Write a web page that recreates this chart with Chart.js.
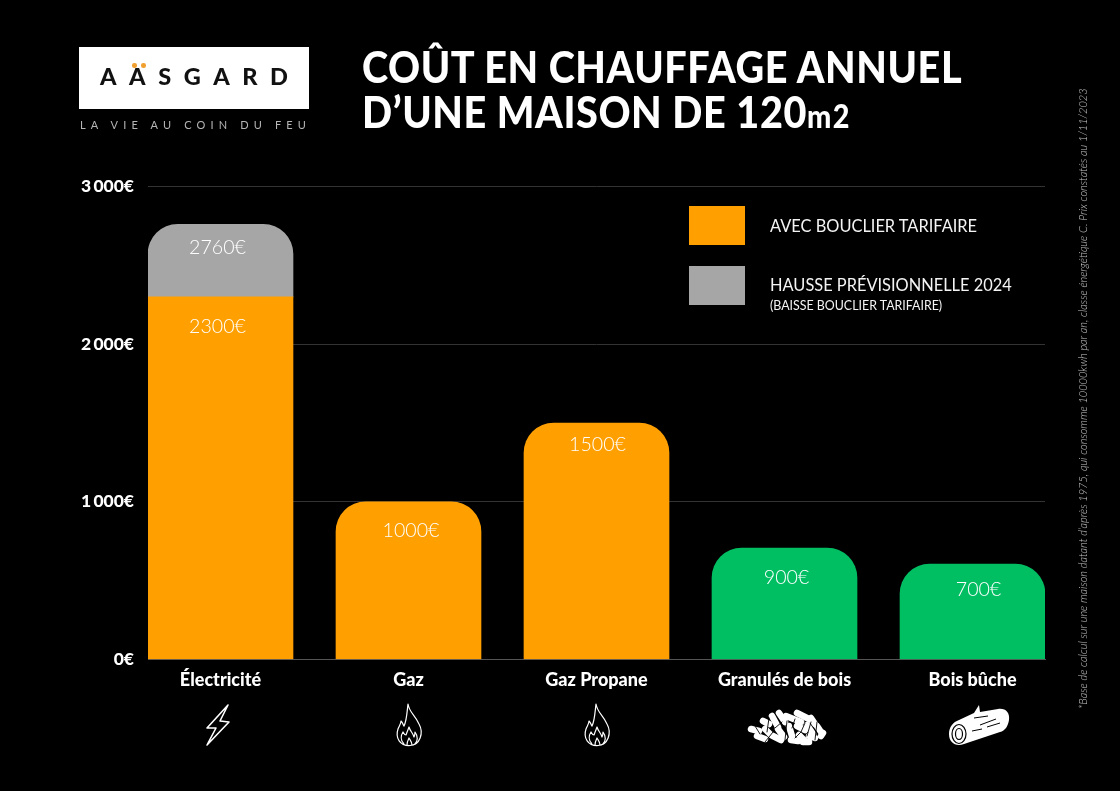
<!DOCTYPE html>
<html lang="fr">
  <head>
    <meta charset="utf-8">
    <title>Coût en chauffage annuel</title>
    <script src="https://cdn.jsdelivr.net/npm/chart.js@4.2.1/dist/chart.umd.min.js"></script>
    <style>
      html, body { margin: 0; background: #000; width: 1120px; height: 791px; overflow: hidden; }
      canvas { position: absolute; left: 0; top: 0; }
      .t { position: absolute; white-space: nowrap; color: #fff; font-family: Lato, sans-serif; }
      .title { font-weight: 900; font-size: 44px; line-height: 46px; left: 362px; letter-spacing: 0.65px; transform-origin: 0 0; transform: scaleX(0.9); }
      .title small { font-size: 32px; letter-spacing: 1.5px; }
      .logo { position: absolute; left: 79px; top: 47px; width: 230px; height: 62px; background: #fff; }
      .logo span { position: absolute; left: 21px; top: 15px; color: #111; font: 900 23.5px Lato, sans-serif; letter-spacing: 12.6px; }
      .dot { position: absolute; top: 16px; width: 4.5px; height: 4.5px; border-radius: 50%; background: #f0a030; }
      .tag { left: 80px; top: 118px; color: #b5b5b5; font-size: 11px; letter-spacing: 5.15px; font-weight: 400; }
      .box { position: absolute; left: 689px; width: 56px; height: 39px; }
      .leg { left: 770px; font-size: 16.4px; font-weight: 400; color: #f4f4f4; }
      .note { left: 1084px; top: 709px; color: #c4c4c4; font-size: 11px; font-style: italic; font-weight: 300;
              transform-origin: 0 0; transform: rotate(-90deg) translateY(-8px); }
      svg { position: absolute; }
    </style>
  </head>
  <body>
    <canvas id="chart" width="1120" height="791"></canvas>

    <div class="logo">
      <span>AASGARD</span>
      <div class="dot" style="left:53px"></div>
      <div class="dot" style="left:62px"></div>
    </div>
    <div class="t tag">LA VIE AU COIN DU FEU</div>
    <div class="t title" style="top:43px">COÛT EN CHAUFFAGE ANNUEL</div>
    <div class="t title" style="top:88px">D’UNE MAISON DE 120<small>m2</small></div>

    <div class="box" style="top:206px;background:#ff9f00"></div>
    <div class="box" style="top:266px;background:#a6a6a6"></div>
    <div class="t leg" style="top:216px">AVEC BOUCLIER TARIFAIRE</div>
    <div class="t leg" style="top:275px">HAUSSE PRÉVISIONNELLE 2024</div>
    <div class="t leg" style="top:298px;font-size:12.4px">(BAISSE BOUCLIER TARIFAIRE)</div>

    <div class="t note">*Base de calcul sur une maison datant d’après 1975,  qui consomme 10000kwh par an, classe énergétique C. Prix constatés au 1/11/2023</div>

    <!-- icons under the categories -->
    <svg style="left:201px;top:700px" width="34" height="50" viewBox="0 0 34 50" fill="none" stroke="#fff" stroke-width="1.6" stroke-linejoin="round">
      <path d="M27 5 L6 28 L15 28 L6 45 L28 22 L19 21 Z"/>
    </svg>
    <svg style="left:394px;top:702px" width="32" height="46" viewBox="0 0 32 46" fill="none" stroke="#fff" stroke-width="1.2" stroke-linejoin="round">
      <path d="M14 2 C15 10 21 13 25 22 C30 31 26 43 16 43.5 C6 44 1 36 4 27 C5 24 7 22 7 19 C9 21 9 23 10 24 C13 18 13 9 14 2 Z"/>
      <path d="M10 42 C6 38 7 33 9 30 C10 32 11 33 12 33 C13 30 14 28 15 25 C16 29 19 31 20 35 C21 33 21 32 21 30 C24 34 24 39 21 42"/>
      <path d="M13 43 C13 40 14 38 15 36 C16 38 18 40 18 43"/>
    </svg>
    <svg style="left:582px;top:702px" width="32" height="46" viewBox="0 0 32 46" fill="none" stroke="#fff" stroke-width="1.2" stroke-linejoin="round">
      <path d="M14 2 C15 10 21 13 25 22 C30 31 26 43 16 43.5 C6 44 1 36 4 27 C5 24 7 22 7 19 C9 21 9 23 10 24 C13 18 13 9 14 2 Z"/>
      <path d="M10 42 C6 38 7 33 9 30 C10 32 11 33 12 33 C13 30 14 28 15 25 C16 29 19 31 20 35 C21 33 21 32 21 30 C24 34 24 39 21 42"/>
      <path d="M13 43 C13 40 14 38 15 36 C16 38 18 40 18 43"/>
    </svg>
    <svg style="left:745px;top:702px" width="84" height="46" viewBox="0 0 84 46" stroke="#fff" stroke-linecap="round">
      <g stroke-width="6.5">
        <path d="M6 27 L14 29"/><path d="M12 34 L20 37"/><path d="M18 19 L24 22"/><path d="M20 27 L26 33"/>
        <path d="M28 34 L36 38"/><path d="M27 14 L33 25"/><path d="M34 11 L40 20"/><path d="M33 27 L39 35"/>
        <path d="M41 14 L56 20"/><path d="M52 11 L66 18"/><path d="M44 24 L47 34"/><path d="M52 24 L60 28"/>
        <path d="M46 38 L53 39"/><path d="M54 33 L60 39"/><path d="M62 23 L68 32"/><path d="M66 16 L70 22"/>
        <path d="M72 24 L76 30"/><path d="M64 34 L70 36"/><path d="M76 34 L78 31"/><path d="M58 40 L64 40"/>
      </g>
      <g stroke="#000" stroke-width="0.9" fill="none">
        <path d="M10 24 L15 32"/><path d="M24 16 L22 30"/><path d="M30 26 L37 20"/><path d="M42 19 L40 38"/>
        <path d="M50 17 L47 26"/><path d="M60 21 L56 30"/><path d="M66 20 L62 34"/><path d="M72 20 L70 38"/>
        <path d="M28 30 L20 40"/><path d="M50 36 L56 30"/>
      </g>
    </svg>
    <svg style="left:944px;top:702px" width="70" height="48" viewBox="0 0 70 48">
      <path d="M30 11 L35 3 L36 10 L54 7 C62 6 66 11 65 18 C64 24 61 29 56 30 L20 42 C12 45 5 41 5 32 C5 25 9 20 15 18 Z" fill="#fff"/>
      <ellipse cx="15" cy="32" rx="7" ry="9.5" fill="#fff" stroke="#000" stroke-width="1.2"/>
      <ellipse cx="15" cy="32" rx="3.5" ry="5.5" fill="none" stroke="#000" stroke-width="1.2"/>
      <path d="M30 16 L44 14 M36 23 L52 17 M28 29 L38 27 M43 25 L56 21" stroke="#000" stroke-width="1"/>
    </svg>

    <script>
    const categories = ['Électricité', 'Gaz', 'Gaz Propane', 'Granulés de bois', 'Bois bûche'];
    const shieldValues = [2300, 1000, 1500, null, null];
    const woodValues = [null, null, null, 707, 605];
    const riseValues = [460, null, null, null, null];
    // printed labels, the green bars are not drawn to the height they state
    const shieldLabels = ['2300€', '1000€', '1500€', null, null];
    const woodLabels = [null, null, null, '900€', '700€'];
    const riseLabels = ['2760€', null, null, null, null];
    const yTicks = {0: '0€', 1000: '1\u2009000€', 2000: '2\u2009000€', 3000: '3\u2009000€'};

    const ORANGE = '#ff9f00';
    const GREEN = '#00bf63';
    const GREY = '#a6a6a6';
    const FONT = 'Lato, sans-serif';

    function points(values) {
      return values.map((v, i) => ({x: i, y: v}));
    }

    // printed values are placed by hand in the original, so nudge each one from its bar
    const valueLabels = {
      id: 'valueLabels',
      afterDatasetsDraw(chart) {
        const ctx = chart.ctx;
        const sets = [
          [0, shieldLabels, [-3, 2.5, 1], [30, 29, 22]],
          [1, woodLabels, [0, 0, 0, 2, 6], [0, 0, 0, 30, 26]],
          [2, riseLabels, [-3], [23]]
        ];
        ctx.save();
        ctx.fillStyle = '#fff';
        ctx.font = '300 19.6px ' + FONT;
        ctx.textAlign = 'center';
        ctx.textBaseline = 'middle';
        sets.forEach(([index, labels, nudges, drops]) => {
          chart.getDatasetMeta(index).data.forEach((bar, i) => {
            if (labels[i]) ctx.fillText(labels[i], bar.x + nudges[i], bar.y + drops[i]);
          });
        });
        ctx.restore();
      }
    };

    const radius = {topLeft: 30, topRight: 30, bottomLeft: 0, bottomRight: 0};
    const ctx = document.getElementById('chart').getContext('2d');
    const myChart = new Chart(ctx, {
      type: 'bar',
      data: {
        datasets: [
          {data: points(shieldValues), backgroundColor: ORANGE, borderRadius: c => c.dataIndex === 0 ? 0 : radius, borderSkipped: false},
          {data: points(woodValues), backgroundColor: GREEN, borderRadius: radius, borderSkipped: false},
          {data: points(riseValues), backgroundColor: GREY, borderRadius: radius, borderSkipped: false}
        ]
      },
      options: {
        responsive: false,
        animation: false,
        barThickness: 145,
        layout: {padding: {top: 186.5, right: 75, bottom: 0, left: 0}},
        plugins: {legend: {display: false}, tooltip: {enabled: false}},
        scales: {
          x: {
            type: 'linear',
            offset: false,
            stacked: true,
            min: -0.3856,
            max: 4.3856,
            grid: {display: false},
            border: {color: '#555'},
            afterFit: s => { s.height = 131.5; },
            ticks: {
              stepSize: 1,
              includeBounds: false,
              autoSkip: false,
              maxRotation: 0,
              padding: 2,
              color: '#fff',
              font: {family: FONT, size: 18, weight: '900'},
              callback: v => categories[v]
            }
          },
          y: {
            stacked: true,
            min: 0,
            max: 3000,
            grid: {color: '#333', tickLength: 0},
            border: {display: false},
            afterFit: s => { s.width = 148; },
            ticks: {
              stepSize: 1000,
              padding: 14,
              color: '#fff',
              font: {family: FONT, size: 17.5, weight: '900'},
              callback: v => yTicks[v]
            }
          }
        }
      },
      plugins: [valueLabels]
    });
    </script>
  </body>
</html>
